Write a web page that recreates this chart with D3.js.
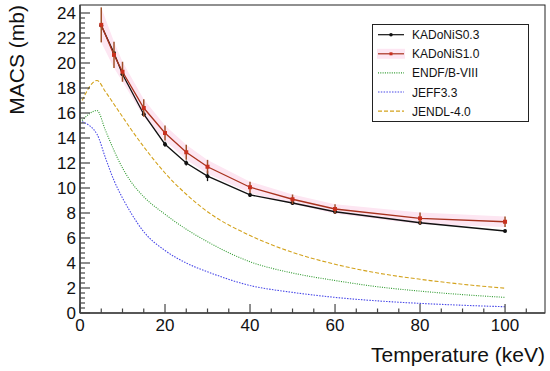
<!DOCTYPE html>
<html>
<head>
<meta charset="utf-8">
<script src="https://cdn.jsdelivr.net/npm/d3@7"></script>
<style>
  body { margin: 0; background: #fff; }
  text { font-family: "Liberation Sans", Arial, sans-serif; }
</style>
</head>
<body>
<div id="chart"></div>
<script>
// KADoNiS measured points
var kadT = [5, 8, 10, 15, 20, 25, 30, 40, 50, 60, 80, 100];
var kad03 = [23.0, 20.8, 19.1, 15.9, 13.5, 12.0, 10.95, 9.45, 8.8, 8.1, 7.22, 6.56];
var kad03Err = [0, 0, 0, 0, 0.2, 0.2, 0.4, 0.15, 0.15, 0.15, 0.15, 0.1];
var kad10 = [23.05, 20.65, 19.3, 16.4, 14.4, 12.86, 11.7, 10.06, 9.1, 8.32, 7.57, 7.3];
var kad10Err = [1.4, 1.05, 0.8, 0.7, 0.6, 0.6, 0.55, 0.45, 0.38, 0.38, 0.47, 0.42];

// evaluated libraries
var libT = [0.5, 4, 6, 8, 10, 12, 15, 20, 25, 30, 40, 50, 60, 70, 80, 90, 100];
var endf = [15.4, 16.2, 14.6, 13.0, 11.6, 10.5, 9.3, 7.9, 6.7, 5.7, 4.1, 3.2, 2.6, 2.1, 1.75, 1.47, 1.25];
var jeff = [15.3, 14.3, 12.4, 10.6, 9.2, 8.0, 6.5, 5.0, 4.0, 3.3, 2.2, 1.65, 1.25, 0.97, 0.77, 0.62, 0.5];
var jendl = [17.0, 18.6, 17.7, 16.7, 15.7, 14.7, 13.3, 11.2, 9.5, 8.1, 6.2, 4.85, 3.9, 3.2, 2.7, 2.3, 1.98];

var xTicks = [0, 20, 40, 60, 80, 100];
var yTicks = [0, 2, 4, 6, 8, 10, 12, 14, 16, 18, 20, 22, 24];

(function() {
  var width = 550, height = 371;
  var left = 80, right = 545, top = 5, bottom = 313;

  var svg = d3.select("#chart").append("svg")
              .attr("width", width)
              .attr("height", height);

  var x = d3.scaleLinear().domain([0, 109.4]).range([left, right]);
  var y = d3.scaleLinear().domain([0, 24.64]).range([bottom, top]);

  // frame
  svg.append("rect")
     .attr("x", left).attr("y", top)
     .attr("width", right - left).attr("height", bottom - top)
     .attr("fill", "none").attr("stroke", "#222").attr("stroke-width", 1);

  // pink error band for KADoNiS1.0
  var band = d3.area()
               .x(function(d, i) { return x(kadT[i]); })
               .y0(function(d, i) { return y(d - kad10Err[i]); })
               .y1(function(d, i) { return y(d + kad10Err[i]); });
  svg.append("path").datum(kad10)
     .attr("d", band)
     .attr("fill", "#fde6f2");

  var libLine = d3.line()
                  .curve(d3.curveMonotoneX)
                  .x(function(d, i) { return x(libT[i]); })
                  .y(function(d) { return y(d); });

  svg.append("path").datum(jendl).attr("d", libLine)
     .attr("fill", "none").attr("stroke", "#d3a21c").attr("stroke-width", 1.1)
     .attr("stroke-dasharray", "4,2");
  svg.append("path").datum(endf).attr("d", libLine)
     .attr("fill", "none").attr("stroke", "#2f9a2f").attr("stroke-width", 1.1)
     .attr("stroke-dasharray", "1,1.3");
  svg.append("path").datum(jeff).attr("d", libLine)
     .attr("fill", "none").attr("stroke", "#4848e8").attr("stroke-width", 1.1)
     .attr("stroke-dasharray", "1.5,1.3");

  var kadLine = d3.line()
                  .x(function(d, i) { return x(kadT[i]); })
                  .y(function(d) { return y(d); });

  // KADoNiS0.3
  svg.append("path").datum(kad03).attr("d", kadLine)
     .attr("fill", "none").attr("stroke", "#111").attr("stroke-width", 1.3);
  svg.selectAll(".err03").data(kad03).enter().append("line")
     .attr("x1", function(d, i) { return x(kadT[i]); })
     .attr("x2", function(d, i) { return x(kadT[i]); })
     .attr("y1", function(d, i) { return y(d - kad03Err[i]); })
     .attr("y2", function(d, i) { return y(d + kad03Err[i]); })
     .attr("stroke", "#111").attr("stroke-width", 1.3);
  svg.selectAll(".dot03").data(kad03).enter().append("circle")
     .attr("cx", function(d, i) { return x(kadT[i]); })
     .attr("cy", function(d) { return y(d); })
     .attr("r", 2).attr("fill", "#111");

  // KADoNiS1.0
  svg.append("path").datum(kad10).attr("d", kadLine)
     .attr("fill", "none").attr("stroke", "#a8321e").attr("stroke-width", 1.3);
  svg.selectAll(".err10").data(kad10).enter().append("line")
     .attr("x1", function(d, i) { return x(kadT[i]); })
     .attr("x2", function(d, i) { return x(kadT[i]); })
     .attr("y1", function(d, i) { return y(d - kad10Err[i]); })
     .attr("y2", function(d, i) { return y(d + kad10Err[i]); })
     .attr("stroke", "#a0502a").attr("stroke-width", 1.5);
  svg.selectAll(".sq10").data(kad10).enter().append("rect")
     .attr("x", function(d, i) { return x(kadT[i]) - 2; })
     .attr("y", function(d) { return y(d) - 2; })
     .attr("width", 4).attr("height", 4)
     .attr("fill", "#c8301e");

  // axes
  var xAxis = svg.append("g").attr("transform", "translate(0," + bottom + ")");
  xAxis.append("line").attr("x1", left).attr("x2", right)
       .attr("stroke", "#444").attr("stroke-width", 1.6);
  xAxis.selectAll(".minor").data(d3.range(0, 109, 5)).enter().append("line")
       .attr("x1", function(d) { return x(d); }).attr("x2", function(d) { return x(d); })
       .attr("y1", 0).attr("y2", function(d) { return d % 20 === 0 ? -9 : -4.5; })
       .attr("stroke", "#444").attr("stroke-width", 1.2);
  xAxis.selectAll(".lab").data(xTicks).enter().append("text")
       .attr("x", function(d) { return x(d); }).attr("y", 18)
       .attr("text-anchor", "middle").attr("font-size", 17).attr("fill", "#111")
       .text(function(d) { return d; });

  var yAxis = svg.append("g").attr("transform", "translate(" + left + ",0)");
  yAxis.append("line").attr("y1", top).attr("y2", bottom)
       .attr("stroke", "#444").attr("stroke-width", 1.6);
  yAxis.selectAll(".minor").data(d3.range(0, 61)).enter().append("line")
       .attr("y1", function(d) { return y(d * 0.4); }).attr("y2", function(d) { return y(d * 0.4); })
       .attr("x1", 0).attr("x2", function(d) { return d % 5 === 0 ? 10 : 5; })
       .attr("stroke", "#444").attr("stroke-width", 1.2);
  yAxis.selectAll(".lab").data(yTicks).enter().append("text")
       .attr("x", -4).attr("y", function(d) { return y(d) + 6; })
       .attr("text-anchor", "end").attr("font-size", 17).attr("fill", "#111")
       .text(function(d) { return d; });

  svg.append("text")
     .attr("transform", "translate(24," + top + ") rotate(-90)")
     .attr("text-anchor", "end").attr("font-size", 21).attr("fill", "#111")
     .text("MACS (mb)");
  svg.append("text")
     .attr("x", right).attr("y", 362)
     .attr("text-anchor", "end").attr("font-size", 21).attr("fill", "#111")
     .text("Temperature (keV)");

  // legend
  var legend = [
    {name: "KADoNiS0.3", color: "#111", dash: null, mark: "dot"},
    {name: "KADoNiS1.0", color: "#a8321e", dash: null, mark: "sq"},
    {name: "ENDF/B-VIII", color: "#2f9a2f", dash: "1,1.3"},
    {name: "JEFF3.3", color: "#4848e8", dash: "1.5,1.3"},
    {name: "JENDL-4.0", color: "#d3a21c", dash: "4,2"}
  ];
  var lg = svg.append("g");
  lg.append("rect").attr("x", 372.5).attr("y", 24.5).attr("width", 156).attr("height", 97)
    .attr("fill", "#fff").attr("stroke", "#222").attr("stroke-width", 1);
  var row = lg.selectAll(".row").data(legend).enter().append("g")
              .attr("transform", function(d, i) { return "translate(0," + (34.7 + i * 19.1) + ")"; });
  row.filter(function(d) { return d.mark === "sq"; }).append("rect")
     .attr("x", 377).attr("y", -5).attr("width", 28).attr("height", 10).attr("fill", "#fde6f2");
  row.append("line").attr("x1", 378).attr("x2", 404)
     .attr("stroke", function(d) { return d.color; }).attr("stroke-width", 1.2)
     .attr("stroke-dasharray", function(d) { return d.dash; });
  row.filter(function(d) { return d.mark === "dot"; }).append("circle")
     .attr("cx", 391).attr("r", 1.8).attr("fill", "#111");
  row.filter(function(d) { return d.mark === "sq"; }).append("rect")
     .attr("x", 389.5).attr("y", -1.5).attr("width", 3).attr("height", 3).attr("fill", "#c8301e");
  row.append("text").attr("x", 412).attr("y", 4.5)
     .attr("font-size", 12).attr("fill", "#111")
     .text(function(d) { return d.name; });
})();
</script>
</body>
</html>
